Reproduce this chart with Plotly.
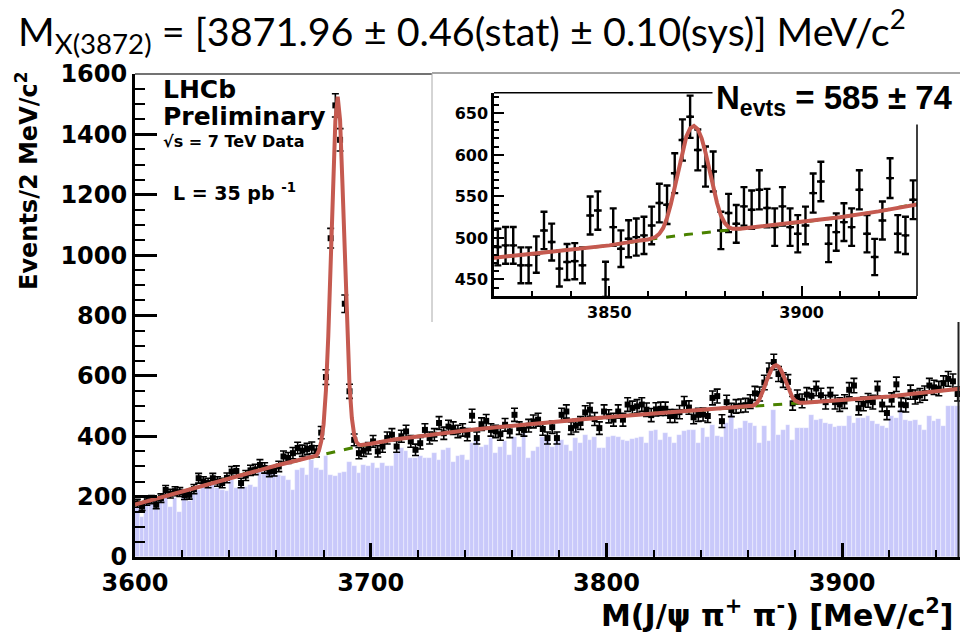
import plotly.graph_objects as go

# ---------------- data ----------------
bin_low = 3600
bin_width = 2

events = [
    # 3601 - 3669
    178, 167, 185, 190, 173, 195, 222, 210, 218, 215, 205, 206, 225, 261, 250, 245, 261, 250, 245, 262,
    283, 285, 245, 270, 287, 290, 305, 295, 283, 285, 300, 333, 328, 344, 361,
    # 3671 - 3739
    352, 358, 362, 350, 412, 596, 1056, 1496, 1382, 839, 549, 388, 344, 352, 360, 383, 350, 366, 394, 405,
    366, 400, 416, 383, 355, 377, 421, 394, 405, 444, 410, 432, 427, 416, 421,
    # 3741 - 3819
    405, 468, 394, 440, 451, 421, 416, 407, 438, 416, 471, 427, 421, 435, 449, 455, 424, 394, 430, 394,
    471, 482, 427, 435, 444, 479, 488, 457, 427, 482, 466, 455, 482, 455, 505, 494, 499, 505, 488, 470,
    # 3821 - 3929
    489, 491, 491, 467, 467, 480, 509, 495, 463, 471, 472, 467, 527, 533, 450, 513, 487, 499, 501, 503,
    515, 542, 540, 578, 618, 646, 606, 586, 580, 509, 530, 517, 538, 534, 558, 536, 513, 538, 513, 505,
    515, 554, 568, 493, 507, 519, 513, 558, 505, 477, 521, 572, 505, 503, 546,
    # 3931 - 3949
    530, 535, 543, 568, 562, 558, 576, 590, 582, 540,
]

sideband = [
    # 3601 - 3669
    167, 132, 180, 184, 195, 189, 200, 164, 195, 150, 206, 184, 211, 222, 233, 239, 247, 228, 222, 217,
    256, 228, 233, 233, 239, 233, 289, 283, 278, 278, 272, 267, 256, 222, 289,
    # 3671 - 3739
    294, 272, 322, 294, 289, 333, 270, 267, 278, 283, 316, 300, 278, 305, 300, 311, 294, 311, 300, 300,
    344, 361, 350, 328, 328, 333, 328, 328, 344, 322, 355, 361, 316, 335, 339,
    # 3741 - 3811
    322, 377, 388, 366, 372, 394, 344, 366, 383, 339, 399, 366, 410, 328, 350, 366, 399, 388, 366, 399,
    388, 372, 350, 394, 377, 405, 388, 399, 361, 361, 399, 402, 399, 388, 383, 390,
    # 3813 - 3881
    394, 399, 377, 416, 421, 388, 410, 399, 377, 405, 416, 421, 421, 377, 427, 399, 438, 402, 399, 444,
    471, 424, 427, 449, 444, 433, 377, 433, 383, 488, 405, 421, 438, 388, 427,
    # 3883 - 3949
    427, 427, 471, 455, 457, 444, 441, 430, 433, 433, 466, 444, 460, 460, 466, 449, 441, 433, 427, 466,
    460, 490, 455, 449, 455, 438, 422, 466, 449, 457, 433, 501, 499, 499,
]

bin_centers = [bin_low + bin_width / 2 + bin_width * i for i in range(len(events))]

bkg_x = [3600, 3610, 3620, 3630, 3640, 3650, 3660, 3670, 3680, 3690, 3700, 3710, 3720, 3730, 3740,
         3750, 3760, 3770, 3780, 3790, 3800, 3810, 3820, 3830, 3840, 3850, 3860, 3870, 3880, 3890,
         3900, 3910, 3920, 3930, 3940, 3950]
bkg_y = [174, 196, 218, 240, 262, 283, 303, 322, 340, 358, 375, 389, 400, 410, 419,
         427, 435, 442, 449, 456, 463, 469, 476, 481, 486, 491, 498, 504, 509, 514,
         519, 525, 532, 541, 549, 557]

fit_x = [3600, 3610, 3620, 3630, 3640, 3650, 3660, 3670, 3676, 3677, 3678, 3679, 3680, 3681, 3682,
         3683, 3684, 3685, 3686, 3687, 3688, 3689, 3690, 3691, 3692, 3693, 3694, 3695, 3696, 3698,
         3700, 3710, 3720, 3730, 3740, 3750, 3760, 3770, 3780, 3790, 3800, 3810, 3820, 3830, 3840,
         3850, 3858, 3860, 3862, 3863, 3864, 3865, 3866, 3867, 3868, 3869, 3870, 3871, 3872, 3873,
         3874, 3875, 3876, 3877, 3878, 3879, 3880, 3881, 3882, 3884, 3890, 3900, 3910, 3920, 3930,
         3940, 3950]
fit_y = [174, 196, 218, 240, 262, 283, 303, 322, 333, 336, 352, 383, 439, 552, 732,
         972, 1232, 1445, 1525, 1448, 1238, 982, 747, 570, 460, 404, 380, 372, 371, 373,
         375, 389, 400, 410, 419, 427, 435, 442, 449, 456, 463, 469, 476, 481, 486,
         491, 497, 498, 501, 505, 512, 524, 541, 562, 585, 606, 622, 632, 635, 631,
         620, 603, 582, 561, 542, 527, 518, 513, 511, 511, 514, 519, 525, 532, 541,
         549, 557]

x_ticks_main = [3600, 3700, 3800, 3900]
y_ticks_main = [0, 200, 400, 600, 800, 1000, 1200, 1400, 1600]
x_ticks_inset = [3850, 3900]
y_ticks_inset = [450, 500, 550, 600, 650]

# ---------------- styling helpers ----------------
W, H = 960, 635


def px(x):
    return x / W


def py(y):
    return 1 - y / H


RED = "#c55a50"
GREEN = "#4a8200"
BLUE = "#c9c9fa"
TICKFONT = dict(family="DejaVu Sans", size=24, color="black", weight="bold")
INSETFONT = dict(family="DejaVu Sans", size=16, color="black", weight="bold")

fig = go.Figure()

# main histogram (sideband)
fig.add_trace(go.Bar(
    x=bin_centers, y=sideband, width=bin_width,
    marker=dict(color=BLUE, line=dict(color="rgba(255,255,255,0.55)", width=0.6)),
    xaxis="x", yaxis="y", showlegend=False, hoverinfo="skip",
))
# main data points
fig.add_trace(go.Scatter(
    x=bin_centers, y=events, mode="markers",
    marker=dict(symbol="square", size=6, color="black"),
    error_y=dict(type="sqrt", color="black", thickness=1.6, width=3.5),
    error_x=dict(type="constant", value=bin_width / 2, color="black", thickness=1.6, width=0),
    xaxis="x", yaxis="y", showlegend=False,
))
fig.add_trace(go.Scatter(
    x=bkg_x, y=bkg_y, mode="lines", line=dict(color=GREEN, width=3, dash="dash"),
    xaxis="x", yaxis="y", showlegend=False,
))
fig.add_trace(go.Scatter(
    x=fit_x, y=fit_y, mode="lines", line=dict(color=RED, width=4),
    xaxis="x", yaxis="y", showlegend=False,
))

# inset
fig.add_trace(go.Scatter(
    x=bin_centers, y=events, mode="markers",
    marker=dict(symbol="square", size=3, color="black"),
    error_y=dict(type="sqrt", color="black", thickness=2.4, width=3.5),
    error_x=dict(type="constant", value=bin_width / 2, color="black", thickness=2.4, width=0),
    xaxis="x2", yaxis="y2", showlegend=False,
))
fig.add_trace(go.Scatter(
    x=bkg_x, y=bkg_y, mode="lines", line=dict(color=GREEN, width=3, dash="dash"),
    xaxis="x2", yaxis="y2", showlegend=False,
))
fig.add_trace(go.Scatter(
    x=fit_x, y=fit_y, mode="lines", line=dict(color=RED, width=4),
    xaxis="x2", yaxis="y2", showlegend=False,
))

fig.update_layout(
    width=W, height=H,
    margin=dict(l=0, r=0, t=0, b=0, pad=0, autoexpand=False),
    paper_bgcolor="white", plot_bgcolor="rgba(0,0,0,0)",
    bargap=0,
    xaxis=dict(
        domain=[px(135), 1.0], range=[3600, 3950], anchor="y", automargin=False,
        showline=True, linewidth=3, linecolor="black", mirror=False,
        showgrid=False, zeroline=False,
        tickmode="array", tickvals=x_ticks_main,
        ticks="inside", ticklen=14, tickwidth=2.5, tickcolor="black",
        ticklabelstandoff=2,
        minor=dict(dtick=20, tick0=3600, ticks="inside", ticklen=7, tickwidth=2, tickcolor="black"),
        tickfont=TICKFONT,
    ),
    yaxis=dict(
        domain=[py(557), py(74)], range=[0, 1600], anchor="x", automargin=False,
        showline=True, linewidth=3, linecolor="black", mirror=False,
        showgrid=False, zeroline=False,
        tickmode="array", tickvals=y_ticks_main,
        ticks="inside", ticklen=22, tickwidth=2.5, tickcolor="black",
        minor=dict(dtick=50, tick0=0, ticks="inside", ticklen=10, tickwidth=2, tickcolor="black"),
        tickfont=TICKFONT,
    ),
    xaxis2=dict(
        domain=[px(494), px(917)], range=[3820, 3930], anchor="y2", automargin=False,
        showline=True, linewidth=2.5, linecolor="black", mirror=False,
        showgrid=False, zeroline=False,
        tickmode="array", tickvals=x_ticks_inset,
        ticks="inside", ticklen=10, tickwidth=2, tickcolor="black",
        minor=dict(dtick=10, tick0=3820, ticks="inside", ticklen=5, tickwidth=1.5, tickcolor="black"),
        tickfont=INSETFONT,
    ),
    yaxis2=dict(
        domain=[py(296), py(92.7)], range=[430, 675], anchor="x2", automargin=False,
        showline=True, linewidth=2.5, linecolor="black", mirror=False,
        showgrid=False, zeroline=False,
        tickmode="array", tickvals=y_ticks_inset,
        ticks="inside", ticklen=10, tickwidth=2, tickcolor="black",
        minor=dict(dtick=10, tick0=430, ticks="inside", ticklen=5, tickwidth=1.5, tickcolor="black"),
        tickfont=INSETFONT,
    ),
)

shapes = [
    # main frame: top (left of inset pad) and right
    dict(type="line", xref="paper", yref="paper", x0=px(135), x1=px(432), y0=py(74), y1=py(74),
         line=dict(color="#444", width=1.5)),
    dict(type="line", xref="paper", yref="paper", x0=px(958.5), x1=px(958.5), y0=py(557), y1=py(322),
         line=dict(color="#222", width=2)),
    # inset pad border
    dict(type="line", xref="paper", yref="paper", x0=px(432), x1=1.0, y0=py(73), y1=py(73),
         line=dict(color="#888", width=1.5)),
    dict(type="line", xref="paper", yref="paper", x0=px(432), x1=px(432), y0=py(73), y1=py(322),
         line=dict(color="#aaa", width=1)),
    # inset frame top and right
    dict(type="line", xref="paper", yref="paper", x0=px(494), x1=px(917), y0=py(92.7), y1=py(92.7),
         line=dict(color="black", width=1.5)),
    dict(type="line", xref="paper", yref="paper", x0=px(917), x1=px(917), y0=py(92.7), y1=py(296),
         line=dict(color="black", width=1.5)),
]
fig.update_layout(shapes=shapes)

annotations = [
    dict(text="M<sub>X(3872)</sub> = [3871.96 ± 0.46(stat) ± 0.10(sys)] MeV/c<sup>2</sup>",
         x=px(16), y=py(31), xanchor="left", yanchor="middle",
         font=dict(family="Lato", size=39.5, color="black")),
    dict(text="LHCb", x=px(161), y=py(90), xanchor="left", yanchor="middle",
         font=dict(family="DejaVu Sans", size=25, color="black", weight="bold")),
    dict(text="Preliminary", x=px(161), y=py(117), xanchor="left", yanchor="middle",
         font=dict(family="DejaVu Sans", size=25, color="black", weight="bold")),
    dict(text="√s = 7 TeV Data", x=px(161), y=py(141), xanchor="left", yanchor="middle",
         font=dict(family="DejaVu Sans", size=16, color="black", weight="bold")),
    dict(text="L = 35 pb <sup>-1</sup>", x=px(171), y=py(192), xanchor="left", yanchor="middle",
         font=dict(family="DejaVu Sans", size=19, color="black", weight="bold")),
    dict(text="N<sub>evts</sub> = 585 ± 74", x=px(712), y=py(100), xanchor="left", yanchor="middle",
         bgcolor="white", borderpad=3,
         font=dict(family="Liberation Sans", size=33, color="black", weight="bold")),
    dict(text="Events/2 MeV/c<sup>2</sup>", x=px(27), y=py(181), xanchor="center", yanchor="middle",
         textangle=-90,
         font=dict(family="DejaVu Sans", size=24, color="black", weight="bold")),
    dict(text="M(J/ψ π<sup>+</sup> π<sup>-</sup>) [MeV/c<sup>2</sup>]", x=px(956), y=py(613),
         xanchor="right", yanchor="middle",
         font=dict(family="DejaVu Sans", size=30, color="black", weight="bold")),
]
for a in annotations:
    a.setdefault("xref", "paper")
    a.setdefault("yref", "paper")
    a.setdefault("showarrow", False)
fig.update_layout(annotations=annotations)

fig.write_html("out.html")
